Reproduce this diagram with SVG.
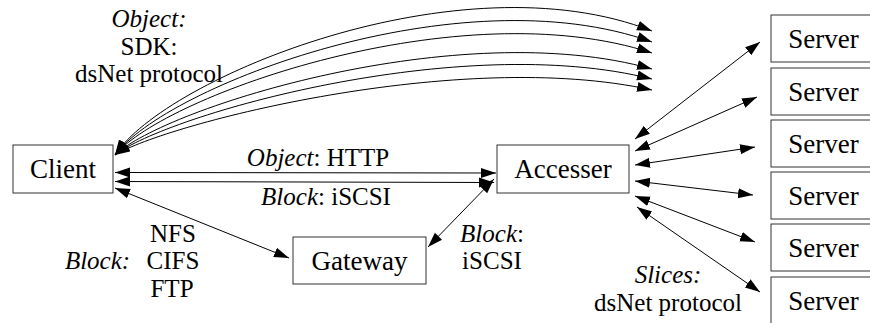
<svg xmlns="http://www.w3.org/2000/svg" width="870" height="323" viewBox="0 0 870 323">
<style>
.box{fill:#fff;stroke:#333;stroke-width:1}
.nt{font-family:'Liberation Serif','Times New Roman',serif;font-size:27px;fill:#000;text-anchor:middle}
.lb{font-family:'Liberation Serif','Times New Roman',serif;font-size:25px;fill:#000;text-anchor:middle}
.it{font-style:italic}
.c{fill:none;stroke:#000;stroke-width:1}
</style>
<defs>
<marker id="ah" markerUnits="userSpaceOnUse" markerWidth="16" markerHeight="12" refX="15" refY="5" orient="auto-start-reverse" viewBox="0 0 16 10">
<path d="M0,0 L15,5 L0,10 z" fill="#000"/>
</marker>
</defs>
<rect width="870" height="323" fill="#fff"/>
<g id="connectors">
<path class="c" marker-start="url(#ah)" marker-end="url(#ah)" d="M115,155 C165,78 460,-44 652,31"/>
<path class="c" marker-start="url(#ah)" marker-end="url(#ah)" d="M115,155 C165,86.6 460,-27 652,42"/>
<path class="c" marker-start="url(#ah)" marker-end="url(#ah)" d="M115,155 C165,95.2 460,-9.8 652,53"/>
<path class="c" marker-start="url(#ah)" marker-end="url(#ah)" d="M115,155 C165,107.6 460,15 652,69"/>
<path class="c" marker-start="url(#ah)" marker-end="url(#ah)" d="M115,155 C165,115.4 460,30.6 652,79"/>
<path class="c" marker-start="url(#ah)" marker-end="url(#ah)" d="M115,155 C165,124 460,47.6 652,90"/>
<line class="c" marker-start="url(#ah)" marker-end="url(#ah)" x1="115" y1="172.5" x2="496" y2="173"/>
<line class="c" marker-start="url(#ah)" marker-end="url(#ah)" x1="115" y1="181.5" x2="494" y2="182.5"/>
<line class="c" marker-start="url(#ah)" marker-end="url(#ah)" x1="115" y1="188" x2="289" y2="258"/>
<line class="c" marker-start="url(#ah)" marker-end="url(#ah)" x1="428" y1="247" x2="494" y2="179"/>
<line class="c" marker-start="url(#ah)" marker-end="url(#ah)" x1="635" y1="139" x2="760" y2="42"/>
<line class="c" marker-start="url(#ah)" marker-end="url(#ah)" x1="635" y1="151" x2="757" y2="97"/>
<line class="c" marker-start="url(#ah)" marker-end="url(#ah)" x1="635" y1="165" x2="755" y2="147"/>
<line class="c" marker-start="url(#ah)" marker-end="url(#ah)" x1="635" y1="181" x2="753" y2="195"/>
<line class="c" marker-start="url(#ah)" marker-end="url(#ah)" x1="635" y1="196" x2="755" y2="242"/>
<line class="c" marker-start="url(#ah)" marker-end="url(#ah)" x1="637" y1="207" x2="760" y2="292"/>
</g>
<g id="client"><rect class="box" x="13" y="145" width="100" height="48"/><text class="nt" x="63" y="178">Client</text></g>
<g id="accesser"><rect class="box" x="497" y="145" width="132" height="48"/><text class="nt" x="563" y="178">Accesser</text></g>
<g id="gateway"><rect class="box" x="293" y="237" width="133" height="47"/><text class="nt" x="359.5" y="270">Gateway</text></g>
<g id="server1"><rect class="box" x="771" y="15" width="110" height="47"/><text class="nt" x="823.5" y="48">Server</text></g>
<g id="server2"><rect class="box" x="771" y="68" width="110" height="47"/><text class="nt" x="823.5" y="101">Server</text></g>
<g id="server3"><rect class="box" x="771" y="120" width="110" height="47"/><text class="nt" x="823.5" y="153">Server</text></g>
<g id="server4"><rect class="box" x="771" y="172" width="110" height="47"/><text class="nt" x="823.5" y="205">Server</text></g>
<g id="server5"><rect class="box" x="771" y="224" width="110" height="47"/><text class="nt" x="823.5" y="257">Server</text></g>
<g id="server6"><rect class="box" x="771" y="277" width="110" height="47"/><text class="nt" x="823.5" y="310">Server</text></g>
<g id="labels">
<text class="lb it" x="149" y="27">Object:</text>
<text class="lb" x="149" y="55">SDK:</text>
<text class="lb" x="149" y="82">dsNet protocol</text>
<text class="lb" x="318" y="166"><tspan class="it">Object</tspan>: HTTP</text>
<text class="lb" x="326" y="205"><tspan class="it">Block</tspan>: iSCSI</text>
<text class="lb" x="173" y="242">NFS</text>
<text class="lb" x="173" y="269">CIFS</text>
<text class="lb" x="172" y="297">FTP</text>
<text class="lb it" x="97.5" y="269">Block:</text>
<text class="lb" x="492" y="242"><tspan class="it">Block</tspan>:</text>
<text class="lb" x="492" y="269">iSCSI</text>
<text class="lb it" x="668" y="283">Slices:</text>
<text class="lb" x="668" y="311">dsNet protocol</text>
</g>
</svg>
